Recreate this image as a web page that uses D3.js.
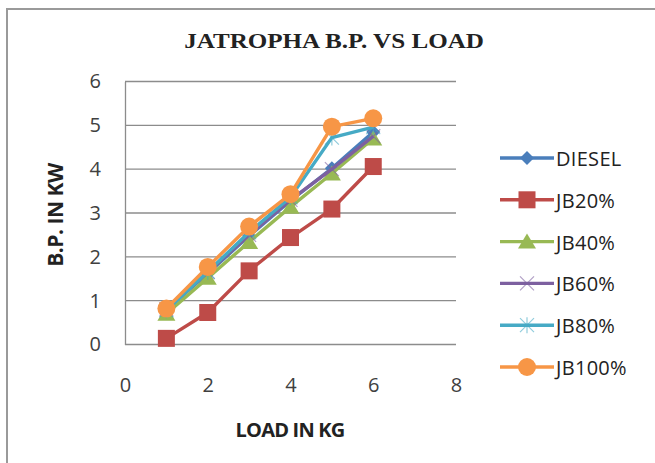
<!DOCTYPE html>
<html>
<head>
<meta charset="utf-8">
<script src="https://cdn.jsdelivr.net/npm/d3@7/dist/d3.min.js"></script>
<style>
  html, body { margin: 0; padding: 0; background: #fff; }
  svg { display: block; }
</style>
</head>
<body>
<svg id="chart" width="655" height="463"></svg>
<script>
// Brake power (kW) against engine load (kg) for diesel and jatropha blends
const loads = [1, 2, 3, 4, 5, 6];
const diesel = [0.80, 1.62, 2.48, 3.28, 4.02, 4.85];
const jb20   = [0.14, 0.73, 1.68, 2.44, 3.09, 4.06];
const jb40   = [0.70, 1.52, 2.34, 3.14, 3.90, 4.70];
const jb60   = [0.80, 1.65, 2.50, 3.30, 4.00, 4.75];
const jb80   = [0.78, 1.66, 2.56, 3.36, 4.72, 4.96];
const jb100  = [0.82, 1.77, 2.69, 3.43, 4.97, 5.16];
const xTicks = [0, 2, 4, 6, 8];
const yTicks = [0, 1, 2, 3, 4, 5, 6];

const series = [
  { name: "DIESEL", values: diesel, color: "#4a7ebb", marker: "diamond" },
  { name: "JB20%",  values: jb20,   color: "#be4b48", marker: "square" },
  { name: "JB40%",  values: jb40,   color: "#98b954", marker: "triangle" },
  { name: "JB60%",  values: jb60,   color: "#7d60a0", marker: "x" },
  { name: "JB80%",  values: jb80,   color: "#46aac5", marker: "star" },
  { name: "JB100%", values: jb100,  color: "#f79646", marker: "circle" }
];

const sans = "'Open Sans', 'Liberation Sans', sans-serif";
const svg = d3.select("#chart");

// outer frame
svg.append("path")
  .attr("d", "M7,463 L7,9 L655,9")
  .attr("fill", "none").attr("stroke", "#9a9a9a").attr("stroke-width", 2);

const x = d3.scaleLinear().domain([0, 8]).range([125, 456]);
const y = d3.scaleLinear().domain([0, 6]).range([344.5, 81.5]);

// horizontal gridlines
svg.append("g").selectAll("line").data(yTicks).join("line")
  .attr("x1", x(0)).attr("x2", x(8))
  .attr("y1", d => y(d)).attr("y2", d => y(d))
  .attr("stroke", "#8c8c8c").attr("stroke-width", 1.3);

// y axis
const yAxis = svg.append("g")
  .attr("transform", `translate(${x(0)},0)`)
  .call(d3.axisLeft(y).tickValues(yTicks).tickSize(0).tickPadding(24).tickFormat(d3.format("d")));
yAxis.select(".domain").attr("stroke", "#8c8c8c").attr("stroke-width", 1.3);
yAxis.selectAll("text")
  .attr("font-family", sans).attr("font-size", 20).attr("fill", "#404040");

// x axis (labels only)
const xAxis = svg.append("g")
  .attr("transform", `translate(0,${y(0)})`)
  .call(d3.axisBottom(x).tickValues(xTicks).tickSize(0).tickPadding(33).tickFormat(d3.format("d")));
xAxis.select(".domain").remove();
xAxis.selectAll("text")
  .attr("font-family", sans).attr("font-size", 20).attr("fill", "#404040");

// title and axis titles
svg.append("text")
  .attr("transform", "translate(334,48) scale(1.14,1)")
  .attr("text-anchor", "middle")
  .attr("font-family", "'Liberation Serif', 'Times New Roman', serif")
  .attr("font-weight", "bold").attr("font-size", 22).attr("fill", "#222")
  .text("JATROPHA B.P. VS LOAD");

svg.append("text")
  .attr("x", 290).attr("y", 437).attr("text-anchor", "middle")
  .attr("font-family", sans)
  .attr("font-weight", "bold").attr("font-size", 20).attr("fill", "#222")
  .attr("letter-spacing", -0.8)
  .text("LOAD IN KG");

svg.append("text")
  .attr("transform", `translate(63,215) rotate(-90)`)
  .attr("text-anchor", "middle")
  .attr("font-family", sans)
  .attr("font-weight", "bold").attr("font-size", 21).attr("fill", "#222")
  .attr("letter-spacing", -0.5)
  .text("B.P. IN KW");

// marker drawing
function drawMarker(g, type, color, cx, cy) {
  switch (type) {
    case "diamond":
      g.append("path").attr("d", `M${cx},${cy-7}L${cx+7},${cy}L${cx},${cy+7}L${cx-7},${cy}Z`).attr("fill", color);
      break;
    case "square":
      g.append("rect").attr("x", cx-8.5).attr("y", cy-8.5).attr("width", 17).attr("height", 17).attr("fill", color);
      break;
    case "triangle":
      g.append("path").attr("d", `M${cx},${cy-8}L${cx+9},${cy+7}L${cx-9},${cy+7}Z`).attr("fill", color);
      break;
    case "x":
      g.append("path").attr("d", `M${cx-7},${cy-7}L${cx+7},${cy+7}M${cx-7},${cy+7}L${cx+7},${cy-7}`)
        .attr("stroke", color).attr("stroke-width", 1.2).attr("fill", "none").attr("opacity", 0.6);
      break;
    case "star":
      g.append("path").attr("d", `M${cx-7},${cy-7}L${cx+7},${cy+7}M${cx-7},${cy+7}L${cx+7},${cy-7}M${cx},${cy-8}L${cx},${cy+8}`)
        .attr("stroke", color).attr("stroke-width", 1.2).attr("fill", "none").attr("opacity", 0.6);
      break;
    case "circle":
      g.append("circle").attr("cx", cx).attr("cy", cy).attr("r", 9).attr("fill", color);
      break;
  }
}

const line = d3.line().x((d, i) => x(loads[i])).y(d => y(d));

series.forEach(s => {
  const g = svg.append("g");
  g.append("path").datum(s.values)
    .attr("d", line)
    .attr("fill", "none").attr("stroke", s.color).attr("stroke-width", 3.4)
    .attr("stroke-linejoin", "round");
  s.values.forEach((v, i) => drawMarker(g, s.marker, s.color, x(loads[i]), y(v)));
});

// legend
const legendY0 = 158, legendStep = 41.8;
series.forEach((s, i) => {
  const ly = legendY0 + i * legendStep;
  const g = svg.append("g");
  g.append("line").attr("x1", 500).attr("x2", 554).attr("y1", ly).attr("y2", ly)
    .attr("stroke", s.color).attr("stroke-width", 3.4);
  drawMarker(g, s.marker, s.color, 527, ly);
  g.append("text").attr("x", 556).attr("y", ly + 8)
    .attr("font-family", sans)
    .attr("font-size", 20).attr("fill", "#222")
    .attr("letter-spacing", 0.3)
    .text(s.name);
});
</script>
</body>
</html>
